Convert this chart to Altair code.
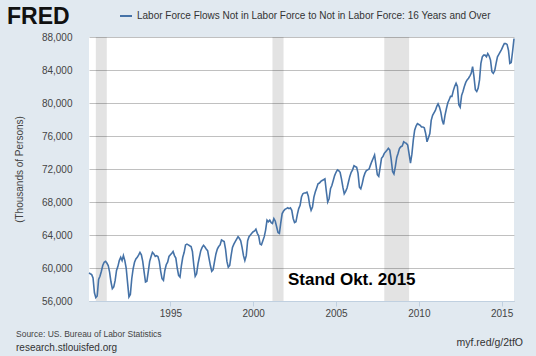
import altair as alt
import pandas as pd

# Monthly values (thousands of persons), Feb 1990 .. Oct 2015
v1990 = [59400, 59300, 59200, 58800, 57000, 56400, 56600, 58600, 59000, 59600, 60300]
v1991 = [60700, 60800, 60600, 60300, 59500, 58300, 57500, 57700, 58500, 59700, 60200, 60900]
v1992 = [61300, 60900, 61500, 60900, 60000, 58200, 56500, 56800, 58700, 59900, 60700, 61100]
v1993 = [61300, 61600, 61900, 61600, 60800, 59500, 58300, 58400, 59600, 60800, 61400, 61900]
v1994 = [61700, 61400, 61500, 61400, 60800, 59600, 58700, 58500, 59700, 60400, 60700, 61400]
v1995 = [61600, 61800, 62000, 61500, 61200, 60000, 59100, 58900, 60300, 61300, 61900, 62800]
v1996 = [62900, 62800, 62700, 62600, 62000, 60300, 59000, 59300, 60500, 61300, 62100, 62500]
v1997 = [62750, 62550, 62300, 62100, 61200, 60300, 59600, 59800, 60800, 61700, 62300, 62600]
v1998 = [62800, 63400, 63300, 63200, 62300, 60800, 60100, 60300, 61500, 62500, 62900, 63200]
v1999 = [63500, 63800, 63600, 63300, 62500, 61500, 60900, 61500, 63300, 63800, 64000, 64200]
v2000 = [64400, 64500, 64700, 64200, 63900, 62900, 62800, 63300, 63800, 64600, 65800, 65600]
v2001 = [65800, 65500, 65400, 66000, 65700, 65000, 64300, 64200, 65500, 66600, 66900, 67100]
v2002 = [67200, 67300, 67200, 67300, 67000, 66000, 65500, 65600, 66500, 67200, 67600, 68600]
v2003 = [69000, 69100, 69100, 69200, 68700, 67600, 67000, 67400, 68600, 69200, 69700, 70200]
v2004 = [70300, 70500, 70600, 70700, 70800, 69300, 68000, 68400, 69600, 70000, 70600, 71200]
v2005 = [71600, 71900, 71800, 71600, 70800, 69800, 69000, 69300, 69700, 70400, 71100, 71600]
v2006 = [71900, 72400, 72300, 72200, 71500, 69800, 69600, 70200, 71000, 71500, 71800, 71900]
v2007 = [72000, 72500, 72900, 73300, 73700, 72500, 71300, 71100, 72200, 73300, 73500, 73900]
v2008 = [74100, 74300, 74500, 74300, 73200, 71700, 71400, 72300, 73400, 73900, 74500, 74700]
v2009 = [74800, 75300, 75200, 75100, 74900, 73800, 72700, 73800, 75500, 76700, 77200, 77500]
v2010 = [77400, 77300, 77100, 77100, 77000, 76300, 75300, 75800, 76300, 77900, 78500, 78800]
v2011 = [79100, 79600, 79900, 79500, 78900, 77900, 77400, 78500, 79300, 80000, 80400, 80800]
v2012 = [80800, 81500, 82000, 82400, 82000, 79800, 79500, 80900, 81400, 82000, 82500, 82800]
v2013 = [83000, 83300, 83600, 84400, 83200, 81600, 81400, 81800, 82800, 84800, 85600, 85800]
v2014 = [85800, 85600, 86000, 85700, 85200, 83800, 83600, 83900, 84800, 85600, 85900, 86200]
v2015 = [86500, 86900, 87200, 87200, 87100, 86400, 84800, 84900, 86300, 87800]

rec_start = ["1990-07-01", "2001-03-01", "2007-12-01"]
rec_end = ["1991-03-01", "2001-11-01", "2009-06-01"]

y_ticks = [56000, 60000, 64000, 68000, 72000, 76000, 80000, 84000, 88000]
x_tick_years = [1995, 2000, 2005, 2010, 2015]

series_title = "Labor Force Flows Not in Labor Force to Not in Labor Force: 16 Years and Over"

values = (v1990 + v1991 + v1992 + v1993 + v1994 + v1995 + v1996 + v1997 + v1998
          + v1999 + v2000 + v2001 + v2002 + v2003 + v2004 + v2005 + v2006 + v2007
          + v2008 + v2009 + v2010 + v2011 + v2012 + v2013 + v2014 + v2015)
dates = pd.date_range("1990-02-01", periods=len(values), freq="MS")
df = pd.DataFrame({"date": dates.strftime("%Y-%m-%dT00:00:00"), "value": values})
rec = pd.DataFrame({"start": [s + "T00:00:00" for s in rec_start],
                    "end": [e + "T00:00:00" for e in rec_end]})

W, H = 425, 264
FONT = "Liberation Sans"
TXT = "#444444"

xscale = alt.Scale(domain=[alt.DateTime(year=1990, month=2, date=1),
                           alt.DateTime(year=2015, month=10, date=1)], nice=False)
yscale = alt.Scale(domain=[56000, 88000], nice=False, zero=False)

xaxis = alt.Axis(values=[alt.DateTime(year=y, month=1, date=1) for y in x_tick_years],
                 format="%Y", grid=False, tickSize=5, tickColor="#C0D0E0",
                 domainColor="#C0D0E0", labelFontSize=10, labelColor=TXT,
                 labelFont=FONT, labelPadding=2, title=None)
yaxis = alt.Axis(values=y_ticks, format=",.0f", grid=True, gridColor="#C0C0C0",
                 domain=False, ticks=False, tickSize=0, labelPadding=17,
                 labelFontSize=10, labelColor=TXT, labelFont=FONT,
                 title="(Thousands of Persons)", titleFontSize=10,
                 titleFontWeight="normal", titleColor=TXT, titleFont=FONT,
                 titleX=-70, titleY=132, titleAlign="center", titleBaseline="middle")

bands = alt.Chart(rec).mark_rect(color="#000000", opacity=0.11).encode(
    x=alt.X("start:T", scale=xscale, axis=xaxis),
    x2="end:T",
)

line = alt.Chart(df).mark_line(color="#4572A7", strokeWidth=1.6).encode(
    x=alt.X("date:T", scale=xscale, axis=xaxis),
    y=alt.Y("value:Q", scale=yscale, axis=yaxis),
)

def label(text, x, y, size, align="left", weight="normal", color=TXT, font=FONT):
    return alt.Chart(pd.DataFrame({"t": [text]})).mark_text(
        align=align, baseline="middle", fontSize=size, fontWeight=weight,
        color=color, font=font
    ).encode(text="t:N", x=alt.value(x), y=alt.value(y))

fred = label("FRED", -82, -20, 23, weight="bold", color="#111111")
legend_line = alt.Chart(pd.DataFrame({"a": [0]})).mark_rule(
    color="#4572A7", strokeWidth=2
).encode(x=alt.value(31), x2=alt.value(43), y=alt.value(-21))
legend_text = label(series_title, 48, -21, 10, color="#333333")
stand = label("Stand Okt. 2015", 199, 243, 17, weight="bold", color="#000000")
source = label("Source: US. Bureau of Labor Statistics", -73, 297, 8.5)
research = label("research.stlouisfed.org", -73, 311, 10, color="#333333")
myf = label("myf.red/g/2tfO", 434, 306, 10.5, align="right", color="#333333")

chart = alt.layer(
    bands, line, stand, fred, legend_line, legend_text, source, research, myf
).properties(
    width=W, height=H,
    autosize=alt.AutoSizeParams(type="none"),
    padding={"left": 89, "top": 37, "right": 22, "bottom": 55},
    background="#E1E9F0",
).configure_view(fill="white", strokeWidth=0)

chart.save("out.html", embed_options={"renderer": "svg", "actions": False})
